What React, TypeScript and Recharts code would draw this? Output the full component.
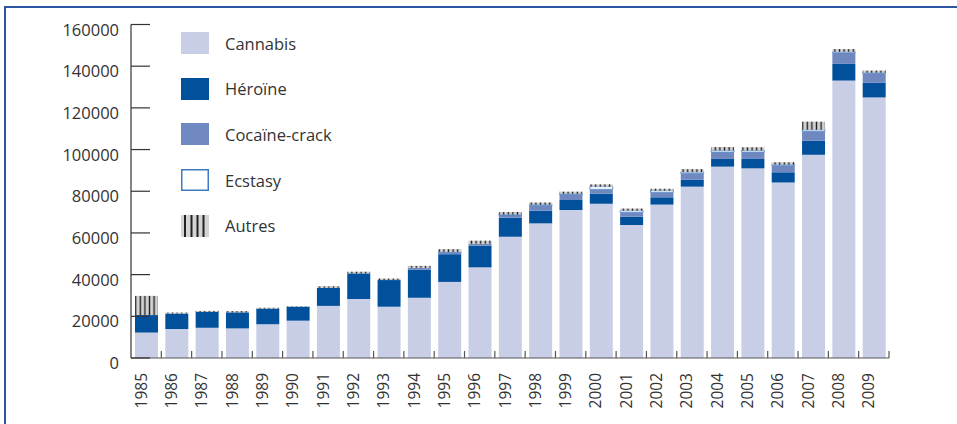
import { BarChart, Bar, XAxis, YAxis } from "recharts";

const years = [
  "1985", "1986", "1987", "1988", "1989", "1990", "1991", "1992", "1993", "1994",
  "1995", "1996", "1997", "1998", "1999", "2000", "2001", "2002", "2003", "2004",
  "2005", "2006", "2007", "2008", "2009",
];

const cannabis = [
  12200, 13900, 14500, 14200, 16200, 17900, 25000, 28300, 24600, 28900,
  36500, 43500, 58200, 64600, 71000, 74000, 63800, 73600, 82200, 91800,
  91000, 84200, 97500, 133100, 125000,
];
const heroine = [
  8400, 7400, 7600, 7700, 7500, 6700, 8700, 12300, 12800, 13400,
  13300, 10400, 9100, 6100, 4800, 4800, 4000, 3500, 3300, 3700,
  4500, 4900, 6700, 8000, 7000,
];
const cocaine = [
  0, 0, 0, 0, 0, 0, 0, 0, 0, 1000,
  900, 900, 1300, 2600, 2700, 2100, 2100, 2400, 3100, 3300,
  3300, 3200, 4600, 5300, 4600,
];
const ecstasy = [
  0, 0, 0, 0, 0, 0, 0, 0, 0, 0,
  200, 0, 300, 300, 300, 1300, 800, 800, 600, 800,
  800, 500, 700, 500, 300,
];
const autres = [
  9200, 500, 500, 600, 400, 200, 700, 800, 700, 900,
  1300, 1500, 1200, 1000, 1000, 1100, 1000, 900, 1400, 1600,
  1500, 1100, 3900, 1300, 1000,
];

const yTicks = [0, 20000, 40000, 60000, 80000, 100000, 120000, 140000, 160000];

const data = years.map((year, i) => ({
  year,
  cannabis: cannabis[i],
  heroine: heroine[i],
  cocaine: cocaine[i],
  ecstasy: ecstasy[i],
  autres: autres[i],
}));

const series = [
  { key: "cannabis", name: "Cannabis", fill: "#c8cee6" },
  { key: "heroine", name: "Héroïne", fill: "#00509c" },
  { key: "cocaine", name: "Cocaïne-crack", fill: "#7088c0" },
  { key: "ecstasy", name: "Ecstasy", fill: "#ffffff" },
  { key: "autres", name: "Autres", fill: "url(#autresPat)" },
];

const FONT = "'Open Sans', 'Noto Sans', sans-serif";
const TEXT = "#333333";
const PLOT_LEFT = 131;
const PLOT_RIGHT = 889;
const BAND = (PLOT_RIGHT - PLOT_LEFT) / years.length;

const YTick = ({ x, y, payload }: any) => (
  <g>
    <line x1={x + 12} x2={x + 31} y1={y} y2={y} stroke="#333" strokeWidth={1.2} />
    <text x={x} y={y} dy={11} textAnchor="end" fill={TEXT} fontSize={16.5} fontFamily={FONT}>
      {payload.value}
    </text>
  </g>
);

const XTick = ({ x, y, payload }: any) => (
  <g>
    <line x1={x + BAND / 2} x2={x + BAND / 2} y1={y - 15} y2={y - 22} stroke="#555" strokeWidth={1.2} />
    <text
      x={x + 0.5}
      y={y}
      transform={`rotate(-90, ${x + 0.5}, ${y})`}
      textAnchor="end"
      fill={TEXT}
      fontSize={15.5}
      fontFamily={FONT}
    >
      {payload.value}
    </text>
  </g>
);

const Swatch = ({ k, fill }: { k: string; fill: string }) => {
  if (k === "ecstasy") {
    return (
      <svg width={28} height={22}>
        <rect x={0.75} y={0.75} width={26.5} height={20.5} fill="#fff" stroke="#3d7bc2" strokeWidth={1.5} />
      </svg>
    );
  }
  if (k === "autres") {
    return (
      <svg width={28} height={22}>
        <rect width={28} height={22} fill="#d4d4d4" />
        {[4, 10.5, 16.5, 22.5].map((sx) => (
          <rect key={sx} x={sx - 1} y={0} width={2} height={22} fill="#222" />
        ))}
      </svg>
    );
  }
  return (
    <svg width={28} height={22}>
      <rect width={28} height={22} fill={fill} />
    </svg>
  );
};

const ChartLegend = () => (
  <div style={{ position: "absolute", left: 181, top: 32, fontFamily: FONT }}>
    {series.map((s) => (
      <div key={s.key} style={{ display: "flex", alignItems: "center", height: 22, marginBottom: 23.7 }}>
        <Swatch k={s.key} fill={s.fill} />
        <span style={{ marginLeft: 16, fontSize: 16.5, color: TEXT, whiteSpace: "nowrap" }}>{s.name}</span>
      </div>
    ))}
  </div>
);

export default function App() {
  return (
    <div style={{ position: "absolute", left: 0, top: 0, width: 957, height: 424, overflow: "hidden", background: "#fff" }}>
      <div
        style={{
          position: "absolute",
          left: 4,
          top: 6,
          width: 1000,
          height: 500,
          borderLeft: "2px solid #2e55a2",
          borderTop: "2px solid #2e55a2",
        }}
      />
      <BarChart
        width={957}
        height={424}
        data={data}
        margin={{ top: 24.5, right: 957 - PLOT_RIGHT, left: PLOT_LEFT - 70, bottom: 6 }}
        barSize={23}
        style={{ position: "absolute", left: 0, top: 0 }}
      >
        <defs>
          <pattern id="autresPat" patternUnits="userSpaceOnUse" width={4.6} height={4}>
            <rect width={4.6} height={4} fill="#d3d3d3" />
            <rect x={1.6} width={1.4} height={4} fill="#222" />
          </pattern>
        </defs>
        <XAxis
          dataKey="year"
          height={60}
          interval={0}
          tickSize={0}
          tickMargin={15}
          tickLine={false}
          axisLine={{ stroke: "#555", strokeWidth: 1.2 }}
          tick={<XTick />}
        />
        <YAxis
          width={70}
          domain={[0, 160000]}
          ticks={yTicks}
          interval={0}
          tickSize={0}
          tickMargin={12}
          tickLine={false}
          axisLine={{ stroke: "#333", strokeWidth: 1.2 }}
          tick={<YTick />}
        />
        {series.map((s) => (
          <Bar
            key={s.key}
            dataKey={s.key}
            name={s.name}
            stackId="a"
            fill={s.fill}
            stroke={s.key === "ecstasy" ? "#4a82c6" : undefined}
            strokeWidth={s.key === "ecstasy" ? 0.8 : 0}
            isAnimationActive={false}
          />
        ))}
      </BarChart>
      <ChartLegend />
    </div>
  );
}
